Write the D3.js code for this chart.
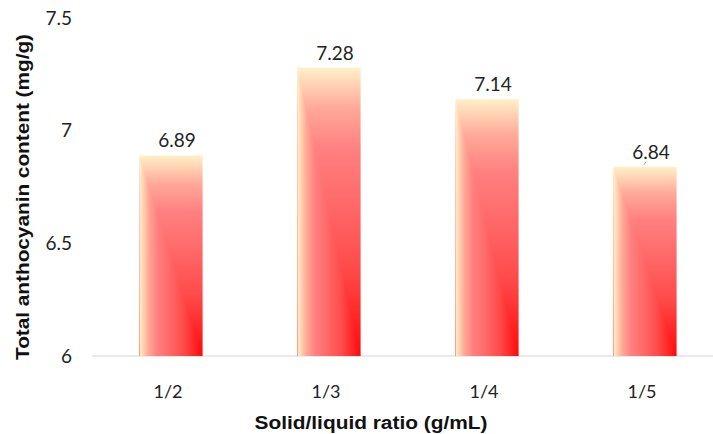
<!DOCTYPE html>
<html>
<head>
<meta charset="utf-8">
<script src="https://cdn.jsdelivr.net/npm/d3@7"></script>
<style>
  html, body { margin: 0; padding: 0; background: #fff; }
  svg { display: block; }
</style>
</head>
<body>
<svg id="chart" width="713" height="434"></svg>
<script>
// Total anthocyanin content by solid/liquid ratio
const categories = ["1/2", "1/3", "1/4", "1/5"];
const values = [6.89, 7.28, 7.14, 6.84];
const yTicks = [6, 6.5, 7, 7.5];
const yTickLabels = ["6", "6.5", "7", "7.5"];

const W = 713, H = 434;
const svg = d3.select("#chart");
const numFont = "Lato, 'Open Sans', sans-serif";
const boldFont = "'Liberation Sans', Arial, sans-serif";

const x = d3.scaleBand()
  .domain(categories)
  .range([92, 724])
  .paddingInner(0.6)
  .paddingOuter(0.3);

const y = d3.scaleLinear()
  .domain([6, 7.5])
  .range([356, 18]);

// Corner gradient: red at bottom-right, fading to cream towards top and left edges
const defs = svg.append("defs");
const stops = [
  [0.00, "#ff0a0a"],
  [0.30, "#ff4a4a"],
  [0.55, "#ff6c6c"],
  [0.72, "#ff8080"],
  [0.86, "#ffaa98"],
  [1.00, "#fff0c8"]
];
function addGradient(id, x1, y1, x2, y2) {
  const g = defs.append("linearGradient")
    .attr("id", id)
    .attr("x1", x1).attr("y1", y1).attr("x2", x2).attr("y2", y2);
  stops.forEach(([o, c]) => g.append("stop").attr("offset", o).attr("stop-color", c));
}
addGradient("gradV", 0, 1, 0, 0);
addGradient("gradH", 1, 0, 0, 0);
defs.append("clipPath")
  .attr("id", "lowerLeft")
  .attr("clipPathUnits", "objectBoundingBox")
  .append("polygon")
  .attr("points", "0,0 0,1 1,1");

// Baseline
svg.append("line")
  .attr("x1", 92).attr("x2", W)
  .attr("y1", y(6)).attr("y2", y(6))
  .attr("stroke", "#e3e3e3")
  .attr("stroke-width", 1.5);

// Bars: vertical gradient, with horizontal gradient over the lower-left triangle
const bars = svg.append("g").selectAll("g")
  .data(categories.map((c, i) => ({ c, v: values[i] })))
  .join("g");

bars.append("rect")
  .attr("x", d => x(d.c))
  .attr("y", d => y(d.v))
  .attr("width", x.bandwidth())
  .attr("height", d => y(6) - y(d.v))
  .attr("fill", "url(#gradV)");

bars.append("rect")
  .attr("x", d => x(d.c))
  .attr("y", d => y(d.v))
  .attr("width", x.bandwidth())
  .attr("height", d => y(6) - y(d.v))
  .attr("fill", "url(#gradH)")
  .attr("clip-path", "url(#lowerLeft)");

// Value labels
bars.append("text")
  .attr("x", d => x(d.c) + x.bandwidth() / 2 + 6)
  .attr("y", d => y(d.v) - 8)
  .attr("text-anchor", "middle")
  .attr("font-family", numFont)
  .attr("font-size", 19)
  .attr("fill", "#222")
  .text(d => d.v.toFixed(2));

// Leader line on the last label
const last = categories.length - 1;
svg.append("line")
  .attr("x1", x(categories[last]) + x.bandwidth() / 2 - 1)
  .attr("y1", y(values[last]) - 2)
  .attr("x2", x(categories[last]) + x.bandwidth() / 2 + 1)
  .attr("y2", y(values[last]) - 5)
  .attr("stroke", "#aaa")
  .attr("stroke-width", 1);

// Y axis tick labels
svg.append("g").selectAll("text")
  .data(yTicks)
  .join("text")
  .attr("x", 72)
  .attr("y", d => y(d))
  .attr("dy", "0.35em")
  .attr("text-anchor", "end")
  .attr("font-family", numFont)
  .attr("font-size", 19)
  .attr("fill", "#222")
  .text((d, i) => yTickLabels[i]);

// X axis category labels
svg.append("g").selectAll("text")
  .data(categories)
  .join("text")
  .attr("x", d => x(d) + x.bandwidth() / 2 - 3)
  .attr("y", 398)
  .attr("text-anchor", "middle")
  .attr("font-family", numFont)
  .attr("font-size", 18)
  .attr("fill", "#222")
  .text(d => d);

// Axis titles
svg.append("text")
  .attr("x", 371)
  .attr("y", 429)
  .attr("text-anchor", "middle")
  .attr("font-family", boldFont)
  .attr("font-weight", "bold")
  .attr("font-size", 18)
  .attr("textLength", 233)
  .attr("lengthAdjust", "spacingAndGlyphs")
  .attr("fill", "#111")
  .text("Solid/liquid ratio (g/mL)");

svg.append("text")
  .attr("transform", "translate(29,197) rotate(-90)")
  .attr("text-anchor", "middle")
  .attr("font-family", boldFont)
  .attr("font-weight", "bold")
  .attr("font-size", 18)
  .attr("textLength", 326)
  .attr("lengthAdjust", "spacingAndGlyphs")
  .attr("fill", "#111")
  .text("Total anthocyanin content (mg/g)");
</script>
</body>
</html>
